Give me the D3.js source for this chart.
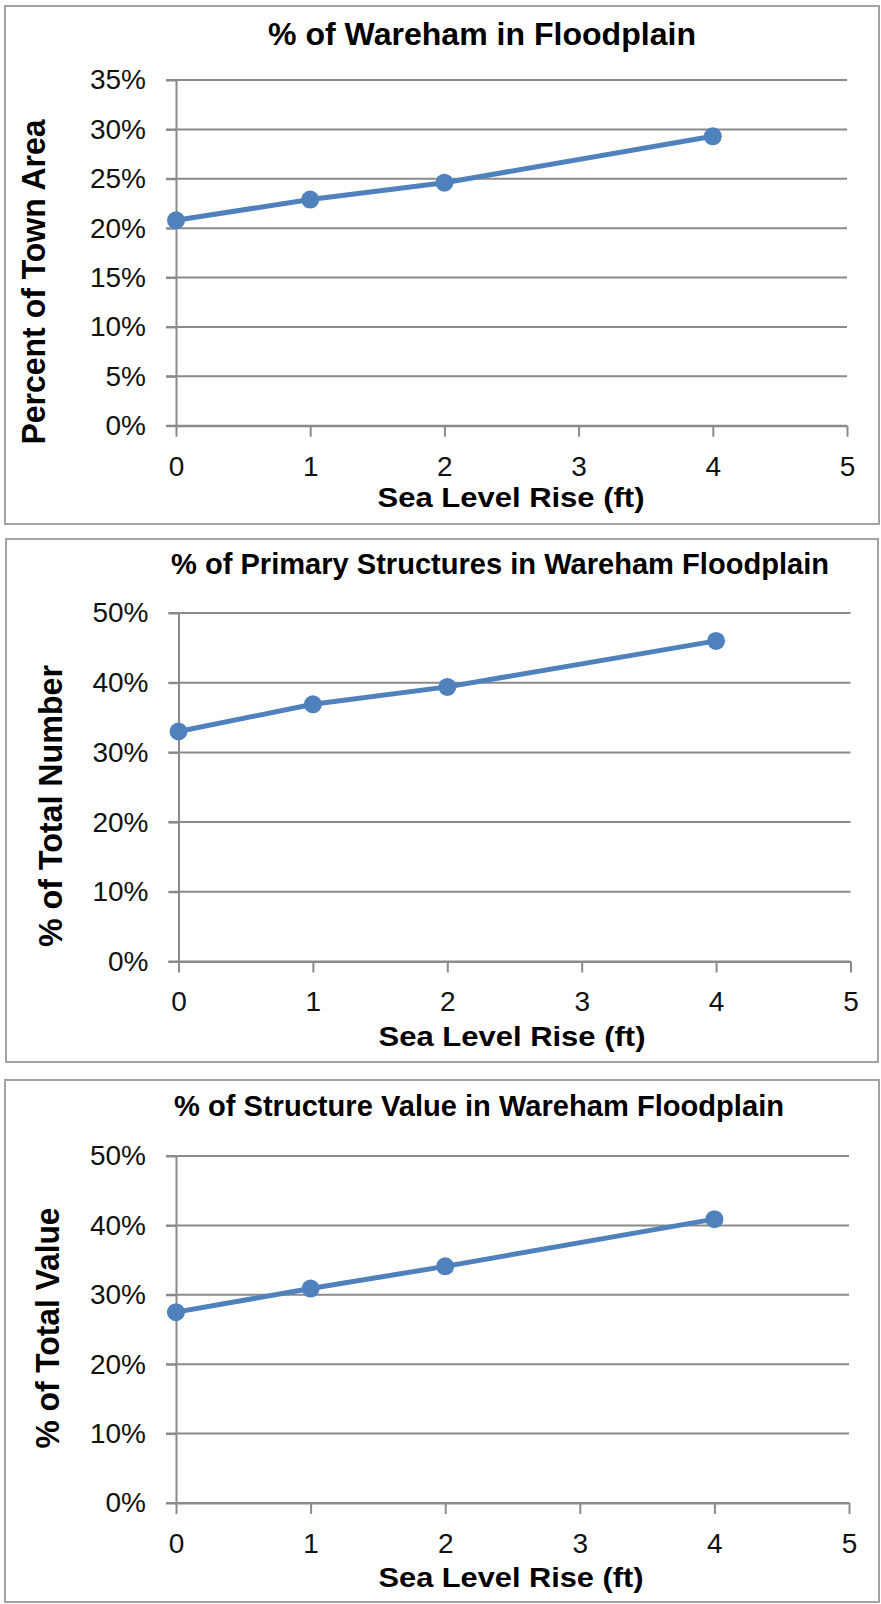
<!DOCTYPE html>
<html>
<head>
<meta charset="utf-8">
<script src="https://cdn.jsdelivr.net/npm/d3@7"></script>
<style>
  html, body { margin: 0; padding: 0; background: #fff; }
  svg { display: block; }
</style>
</head>
<body>
<script>
// Sea level rise scenarios (ft) and the share of Wareham that floods under each
const seaLevelRise = [0, 1, 2, 4];
const townAreaPct = [20.8, 22.9, 24.6, 29.3];
const structureCountPct = [33.0, 36.9, 39.4, 46.0];
const structureValuePct = [27.5, 30.9, 34.1, 40.9];

// Axis ticks
const xTickValues = [0, 1, 2, 3, 4, 5];
const townAreaTicks = [0, 5, 10, 15, 20, 25, 30, 35];
const structureTicks = [0, 10, 20, 30, 40, 50];

// Text
const chartTitles = [
  "% of Wareham in Floodplain",
  "% of Primary Structures in Wareham Floodplain",
  "% of Structure Value in Wareham Floodplain"
];
const yAxisTitles = ["Percent of Town Area", "% of Total Number", "% of Total Value"];
const xAxisTitle = "Sea Level Rise (ft)";

// Panel geometry (page pixels)
const panels = [
  { values: townAreaPct, ticks: townAreaTicks, title: chartTitles[0], yTitle: yAxisTitles[0],
    frame: { x: 5, y: 6, w: 874, h: 518 },
    plot: { left: 176, right: 847, top: 80, bottom: 425.7 },
    titlePos: { x: 482, y: 44.5, len: 428, size: 30.5 },
    yTitlePos: { x: 45, y: 282, len: 325, size: 33 },
    xTitlePos: { x: 511, y: 507, len: 267, size: 28 } },
  { values: structureCountPct, ticks: structureTicks, title: chartTitles[1], yTitle: yAxisTitles[1],
    frame: { x: 6, y: 539, w: 872, h: 523 },
    plot: { left: 178.5, right: 850.5, top: 613, bottom: 961.5 },
    titlePos: { x: 500, y: 573.5, len: 658, size: 29 },
    yTitlePos: { x: 62, y: 806, len: 282, size: 33 },
    xTitlePos: { x: 512, y: 1046, len: 267, size: 28 } },
  { values: structureValuePct, ticks: structureTicks, title: chartTitles[2], yTitle: yAxisTitles[2],
    frame: { x: 5, y: 1080, w: 874, h: 522 },
    plot: { left: 176, right: 849, top: 1156, bottom: 1503 },
    titlePos: { x: 479, y: 1116, len: 610, size: 29 },
    yTitlePos: { x: 59, y: 1328, len: 241, size: 33 },
    xTitlePos: { x: 511, y: 1587, len: 265, size: 28 } }
];

const W = 881, H = 1604;
const gridColor = "#8a8a8a";
const frameColor = "#a3a3a3";
const lineColor = "#4f81bd";
const tickFont = "'Liberation Sans', Arial, sans-serif";
const titleFont = "'Liberation Sans', Arial, sans-serif";

const svg = d3.select("body").append("svg")
  .attr("width", W).attr("height", H)
  .attr("viewBox", `0 0 ${W} ${H}`);

panels.forEach(p => {
  const g = svg.append("g");

  // chart frame
  g.append("rect")
    .attr("x", p.frame.x).attr("y", p.frame.y)
    .attr("width", p.frame.w).attr("height", p.frame.h)
    .attr("fill", "#fff").attr("stroke", frameColor).attr("stroke-width", 2);

  const x = d3.scaleLinear().domain([0, 5]).range([p.plot.left, p.plot.right]);
  const y = d3.scaleLinear().domain([0, d3.max(p.ticks)]).range([p.plot.bottom, p.plot.top]);

  // horizontal gridlines, continuing left as the y tick marks
  g.append("g").selectAll("line").data(p.ticks).join("line")
    .attr("x1", p.plot.left - 10).attr("x2", p.plot.right)
    .attr("y1", d => y(d)).attr("y2", d => y(d))
    .attr("stroke", gridColor).attr("stroke-width", 2);

  // y axis
  const yAxis = g.append("g")
    .attr("transform", `translate(${p.plot.left},0)`)
    .call(d3.axisLeft(y).tickValues(p.ticks).tickFormat(d => d + "%")
      .tickSize(10).tickSizeOuter(0).tickPadding(20));
  yAxis.select(".domain").attr("stroke", gridColor).attr("stroke-width", 2);
  yAxis.selectAll(".tick line").attr("stroke", gridColor).attr("stroke-width", 2);
  yAxis.selectAll(".tick text")
    .attr("font-family", tickFont).attr("font-size", 28).attr("fill", "#111");

  // x axis
  const xAxis = g.append("g")
    .attr("transform", `translate(0,${p.plot.bottom})`)
    .call(d3.axisBottom(x).tickValues(xTickValues).tickFormat(d3.format("d"))
      .tickSize(11).tickSizeOuter(0).tickPadding(19));
  xAxis.select(".domain").attr("stroke", gridColor).attr("stroke-width", 2);
  xAxis.selectAll(".tick line").attr("stroke", gridColor).attr("stroke-width", 2);
  xAxis.selectAll(".tick text")
    .attr("font-family", tickFont).attr("font-size", 28).attr("fill", "#111");
  yAxis.selectAll("text").attr("font-family", tickFont);
  xAxis.attr("font-family", tickFont);
  yAxis.attr("font-family", tickFont);

  // series line and markers
  const pts = seaLevelRise.map((s, i) => [s, p.values[i]]);
  g.append("path")
    .datum(pts)
    .attr("fill", "none").attr("stroke", lineColor).attr("stroke-width", 5)
    .attr("stroke-linejoin", "round")
    .attr("d", d3.line().x(d => x(d[0])).y(d => y(d[1])));
  g.append("g").selectAll("circle").data(pts).join("circle")
    .attr("cx", d => x(d[0])).attr("cy", d => y(d[1])).attr("r", 9)
    .attr("fill", lineColor);

  // chart title
  g.append("text")
    .attr("x", p.titlePos.x).attr("y", p.titlePos.y)
    .attr("text-anchor", "middle")
    .attr("font-family", titleFont).attr("font-weight", "bold")
    .attr("font-size", p.titlePos.size).attr("fill", "#000")
    .attr("textLength", p.titlePos.len).attr("lengthAdjust", "spacingAndGlyphs")
    .text(p.title);

  // y axis title
  g.append("text")
    .attr("transform", `translate(${p.yTitlePos.x},${p.yTitlePos.y}) rotate(-90)`)
    .attr("text-anchor", "middle")
    .attr("font-family", titleFont).attr("font-weight", "bold")
    .attr("font-size", p.yTitlePos.size).attr("fill", "#000")
    .attr("textLength", p.yTitlePos.len).attr("lengthAdjust", "spacingAndGlyphs")
    .text(p.yTitle);

  // x axis title
  g.append("text")
    .attr("x", p.xTitlePos.x).attr("y", p.xTitlePos.y)
    .attr("text-anchor", "middle")
    .attr("font-family", titleFont).attr("font-weight", "bold")
    .attr("font-size", p.xTitlePos.size).attr("fill", "#000")
    .attr("textLength", p.xTitlePos.len).attr("lengthAdjust", "spacingAndGlyphs")
    .text(xAxisTitle);
});
</script>
</body>
</html>
